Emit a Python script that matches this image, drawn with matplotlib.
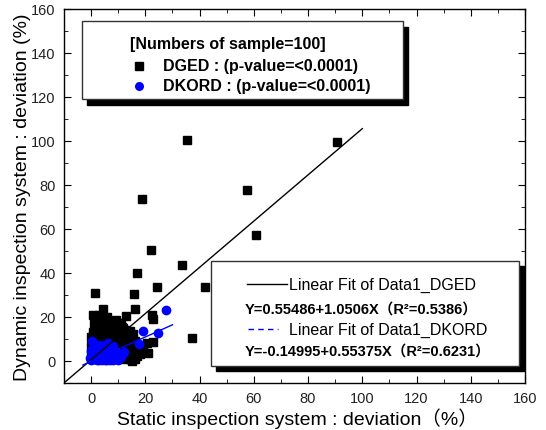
import numpy as np
import matplotlib
matplotlib.use("Agg")
import matplotlib.pyplot as plt
from matplotlib.patches import Rectangle
from matplotlib.lines import Line2D
from matplotlib.ticker import MultipleLocator

plt.rcParams['font.family'] = ['Liberation Sans', 'Noto Sans CJK JP', 'DejaVu Sans']

# DGED samples (static, dynamic)
dged_x = [90.5, 35.4, 57.6, 60.9, 18.8, 22.0, 33.6, 42.0, 24.4, 17.0,
          15.8, 1.5, 37.3, 22.5, 22.8, 16.2, 13.0, 4.4, 0.8, 5.9,
          2.6, 8.1, 11.8, 14.4, 22.9, 19.0, 15.0, 0.8, 0.4, 7.0,
          11.4, 15.5, 13.7, 17.0, 17.0, 14.4,
          1, 4, 7, 10, 13, 16,
          0, 3, 6, 9, 12, 15, 18,
          1, 4, 7, 10, 13, 16, 19,
          0, 3, 6, 9, 12, 15, 18,
          1, 4, 7, 10, 13, 16,
          0, 3, 6, 9, 12, 14,
          1, 4, 7, 10, 13,
          2, 5, 8, 11,
          1, 4, 7,
          2, 5,
          20.5, 21.0, 3.0, 9.0, 11.0, 6.0, 8.5, 12.5, 2.0, 5.5]
dged_y = [99.5, 100.3, 77.8, 57.3, 73.5, 50.3, 43.7, 33.5, 33.8, 40.2,
          30.3, 31.0, 10.3, 20.8, 19.2, 23.6, 20.5, 23.5, 21.0, 18.0,
          16.8, 15.5, 14.8, 13.8, 8.6, 6.4, 0.2, 13.0, 11.0, 16.0,
          15.5, 12.3, 9.0, 6.8, 2.3, 1.0,
          1, 1, 1, 1, 1, 1,
          3, 3, 3, 3, 3, 3, 3,
          5, 5, 5, 5, 5, 5, 5,
          7, 7, 7, 7, 7, 7, 7,
          9, 9, 9, 9, 9, 9,
          11, 11, 11, 11, 11, 11,
          13, 13, 13, 13, 13,
          15, 15, 15, 15,
          17, 17, 17,
          19, 19,
          8.0, 3.5, 21.0, 18.5, 17.5, 20.0, 12.0, 14.0, 8.0, 10.0]

# DKORD samples
dkord_x = [27.7, 19.2, 24.7, 17.7, 0.4, 6.3,
           0, 2, 4, 6, 8, 10,
           1, 3, 5, 7, 9,
           0, 2, 4, 6, 8,
           1, 3, 5, 7,
           11.0, 12.0, 1.5, 3.5, 5.5, 7.5, 9.5, 2.5, 4.5, 6.5, 8.5,
           0.5, 2.0, 4.0, 6.0, 3.0, 5.0, 7.0, 1.0, 9.0,
           -0.5, 10.5, 8.0, 5.0, 3.0]
dkord_y = [23.2, 13.6, 12.7, 7.7, 9.3, 8.2,
           0.5, 0.5, 0.5, 0.5, 0.5, 0.5,
           2.5, 2.5, 2.5, 2.5, 2.5,
           4.5, 4.5, 4.5, 4.5, 4.5,
           6.5, 6.5, 6.5, 6.5,
           2.0, 4.0, 1.5, 1.5, 1.5, 1.5, 1.5, 3.5, 3.5, 3.5, 3.5,
           5.5, 5.5, 5.5, 5.5, 0.5, 0.5, 0.5, 1.0, 4.0,
           1.5, 2.5, 7.0, 7.5, 7.5]

# linear fits as printed on the chart
dged_fit = (0.55486, 1.0506)
dkord_fit = (-0.14995, 0.55375)
dged_fit_range = [-10, 100]
dkord_fit_range = [-3, 30]

W, H = 546, 431
fig = plt.figure(figsize=(W / 100, H / 100), dpi=100)
ax = fig.add_axes([64 / W, 1 - 384 / H, (525 - 64) / W, (384 - 10) / H])


def fx(px):
    return px / W


def fy(py):
    return 1 - py / H


ax.plot(dged_x, dged_y, 's', color='black', ms=6, zorder=2)
ax.plot(dkord_x, dkord_y, 'o', color='#0000ff', ms=7, mec='none', zorder=3)

xs = np.array(dged_fit_range)
ax.plot(xs, dged_fit[0] + dged_fit[1] * xs, color='black', lw=1, zorder=4)
xs = np.array(dkord_fit_range)
ax.plot(xs, dkord_fit[0] + dkord_fit[1] * xs, color='#0000ff', lw=1, zorder=4)

ax.set_xlim(-10, 160)
ax.set_ylim(-10, 160)
ax.xaxis.set_major_locator(MultipleLocator(20))
ax.xaxis.set_minor_locator(MultipleLocator(10))
ax.yaxis.set_major_locator(MultipleLocator(20))
ax.yaxis.set_minor_locator(MultipleLocator(10))
ax.tick_params(which='both', direction='in', top=True, right=True,
               labelsize=10.5, labelcolor='#222222', pad=6)
ax.tick_params(which='major', length=5)
ax.tick_params(which='minor', length=3)
for s in ax.spines.values():
    s.set_linewidth(1)

ax.set_xlabel('Static inspection system : deviation（%）', fontsize=14)
ax.xaxis.set_label_coords((297 - 64) / 461, -(408 - 384) / 374)
ax.set_ylabel('Dynamic inspection system : deviation (%)', fontsize=14, labelpad=0)

# legend boxes with hard black shadows
def box(x0, y0, x1, y1, ox=6, oy=6):
    fig.patches.append(Rectangle((fx(x0 + ox), fy(y1 + oy)), fx(x1 - x0), (y1 - y0) / H,
                                 transform=fig.transFigure, color='black', zorder=5))
    fig.patches.append(Rectangle((fx(x0), fy(y1)), fx(x1 - x0), (y1 - y0) / H,
                                 transform=fig.transFigure, facecolor='white',
                                 edgecolor='#333333', lw=1, zorder=6))

box(82, 22, 403, 100, ox=5, oy=6)
fig.text(fx(130), fy(45), '[Numbers of sample=100]', fontsize=11.5, weight='bold',
         va='center', zorder=7)
fig.lines.append(Line2D([fx(139)], [fy(67)], marker='s', color='black', ms=5.8,
                        transform=fig.transFigure, zorder=7))
fig.text(fx(163), fy(67), 'DGED : (p-value=<0.0001)', fontsize=11.5, weight='bold',
         va='center', zorder=7)
fig.lines.append(Line2D([fx(139)], [fy(87)], marker='o', color='#0000ff', ms=6.5,
                        mec='none', transform=fig.transFigure, zorder=7))
fig.text(fx(163), fy(87), 'DKORD : (p-value=<0.0001)', fontsize=11.5, weight='bold',
         va='center', zorder=7)

box(211, 262, 519, 367, ox=5, oy=5)
fig.lines.append(Line2D([fx(247), fx(287)], [fy(285), fy(285)], color='black', lw=1,
                        transform=fig.transFigure, zorder=7))
fig.text(fx(289), fy(285), 'Linear Fit of Data1_DGED', fontsize=11.5, va='center', zorder=7)
fig.text(fx(245), fy(310), 'Y=0.55486+1.0506X（R²=0.5386）', fontsize=10.5,
         weight='bold', va='center', zorder=7)
fig.lines.append(Line2D([fx(248), fx(278)], [fy(330), fy(330)], color='#0000ff', lw=1,
                        ls=(0, (4, 3)), transform=fig.transFigure, zorder=7))
fig.text(fx(289), fy(330), 'Linear Fit of Data1_DKORD', fontsize=11.5, va='center', zorder=7)
fig.text(fx(245), fy(352), 'Y=-0.14995+0.55375X（R²=0.6231）', fontsize=10.5,
         weight='bold', va='center', zorder=7)

fig.savefig('out.png', dpi=100)
